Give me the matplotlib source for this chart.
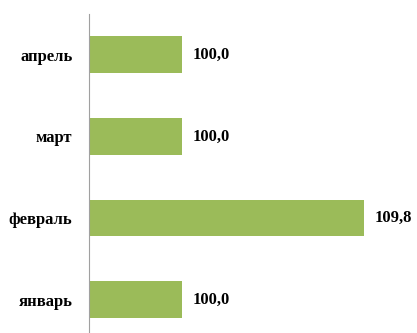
import matplotlib.pyplot as plt

months = ["январь", "февраль", "март", "апрель"]
values = [100.0, 109.8, 100.0, 100.0]
labels = ["100,0", "109,8", "100,0", "100,0"]

fig = plt.figure(figsize=(4.17, 3.33), dpi=100)
ax = fig.add_axes([89/417, 0, 1 - 89/417, (333 - 14)/333])

base = 95
ax.barh(range(len(months)), [v - base for v in values], left=base,
        height=0.45, color="#9BBB59")
for i, (v, t) in enumerate(zip(values, labels)):
    ax.annotate(t, (v, i), xytext=(7.5, 0), textcoords="offset points",
                va="center", ha="left", fontsize=12, fontweight="bold",
                family="Liberation Serif")

ax.set_xlim(base, base + (417 - 89)/18.57)
ax.set_ylim(-0.41, 3.5)
ax.set_yticks(range(len(months)))
ax.set_yticklabels(months, fontsize=12, fontweight="bold", family="Liberation Serif")
ax.tick_params(axis="y", length=0, pad=12)
ax.set_xticks([])
for s in ["top", "right", "bottom"]:
    ax.spines[s].set_visible(False)
ax.spines["left"].set_color("#A0A0A0")

fig.savefig("out.png", dpi=100)
